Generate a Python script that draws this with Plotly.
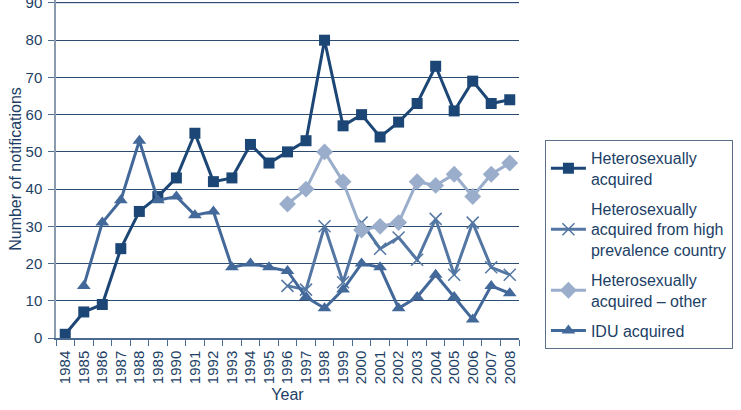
import plotly.graph_objects as go

years = [str(y) for y in range(1984, 2009)]
hetero = [1, 7, 9, 24, 34, 38, 43, 55, 42, 43, 52, 47, 50, 53, 80, 57, 60, 54, 58, 63, 73, 61, 69, 63, 64]
high_prev = [None]*12 + [14, 13, 30, 15, 31, 24, 27, 21, 32, 17, 31, 19, 17]
hetero_other = [None]*12 + [36, 40, 50, 42, 29, 30, 31, 42, 41, 44, 38, 44, 47]
idu = [None, 14, 31, 37, 53, 37, 38, 33, 34, 19, 20, 19, 18, 11, 8, 13, 20, 19, 8, 11, 17, 11, 5, 14, 12]
y_ticks = list(range(0, 100, 10))

names = ["Heterosexually<br>acquired",
         "Heterosexually<br>acquired from high<br>prevalence country",
         "Heterosexually<br>acquired – other",
         "IDU acquired"]

font_color = "#1d3f66"
fs = 15
lfs = 16
fig = go.Figure()
fig.add_trace(go.Scatter(x=years, y=hetero, name=names[0], legendgroup="a", mode="lines+markers",
                         line=dict(color="#1c4675", width=3),
                         marker=dict(symbol="square", size=11, color="#1c4675")))
fig.add_trace(go.Scatter(x=years, y=high_prev, name=names[1], legendgroup="b", mode="lines+markers",
                         line=dict(color="#5376a3", width=3),
                         marker=dict(symbol="x-thin", size=12, line=dict(color="#5376a3", width=1.5))))
fig.add_trace(go.Scatter(x=years, y=hetero_other, name=names[2], legendgroup="c", mode="lines+markers",
                         line=dict(color="#9aaecc", width=3),
                         marker=dict(symbol="diamond", size=13, color="#9aaecc")))
fig.add_trace(go.Scatter(x=years, y=idu, name=names[3], legendgroup="d", mode="lines+markers",
                         line=dict(color="#43699a", width=3),
                         marker=dict(symbol="triangle-up", size=12, color="#43699a")))

# top grid line (light, as in the reference)
fig.add_shape(type="line", xref="paper", yref="y", x0=0, x1=1, y0=max(y_ticks), y1=max(y_ticks),
              line=dict(color="#a9b6c6", width=1), layer="below")

fig.update_layout(
    template="none",
    width=741, height=410,
    margin=dict(l=56, r=222, t=0, b=72, autoexpand=False),
    paper_bgcolor="white", plot_bgcolor="white",
    font=dict(family="Liberation Sans, Arial, sans-serif", size=fs, color=font_color),
    showlegend=True,
    legend=dict(x=1.056, y=0.586, xanchor="left", yanchor="top",
                bordercolor="#5a6f88", borderwidth=1,
                font=dict(size=lfs, color=font_color),
                tracegroupgap=6, itemwidth=35),
    xaxis=dict(type="category", range=[-0.5, 24.5], tickangle=-90, tickson="boundaries", ticks="outside",
               ticklen=6, tickcolor="#4a6a90", showline=True, linecolor="#4a6a90", linewidth=1.5,
               ticklabelstandoff=5, automargin=False,
               showgrid=False, title=dict(text="Year", font=dict(size=lfs, color=font_color), standoff=6),
               tickfont=dict(size=fs, color=font_color)),
    yaxis=dict(range=[0, 90.8], tickvals=y_ticks, ticks="outside", ticklen=6, tickcolor="#4a6a90",
               showline=True, linecolor="#8a9bb0", linewidth=1.5,
               ticklabelstandoff=3, automargin=False, ticklabeloverflow="allow",
               showgrid=True, gridcolor="#2c4c72", gridwidth=1,
               zeroline=False,
               title=dict(text="Number of notifications", font=dict(size=lfs, color=font_color), standoff=0),
               tickfont=dict(size=fs, color=font_color)),
)

fig.write_html("out.html")
